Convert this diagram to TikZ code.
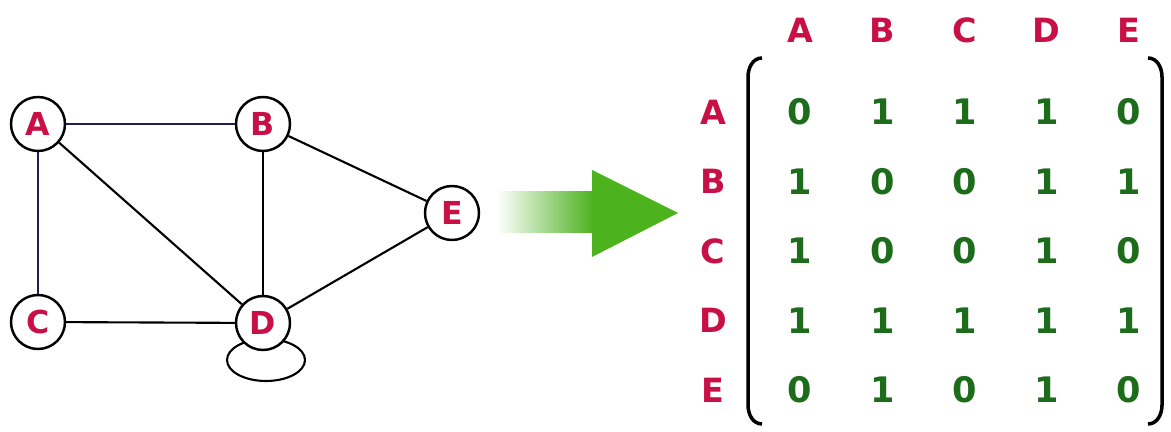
\documentclass[tikz,border=0pt]{standalone}
\usepackage{fontspec}
\setmainfont{DejaVu Sans}

\definecolor{vertexred}{RGB}{200,16,70}
\definecolor{entrygreen}{RGB}{28,108,28}
\definecolor{arrowgreen}{RGB}{76,178,30}
\definecolor{edgenavy}{RGB}{30,30,80}

\tikzset{
  vertex/.style={circle, draw, line width=1.4pt, fill=white, minimum size=1.08cm, inner sep=0pt,
    text=vertexred, font=\fontsize{18}{20}\selectfont\bfseries},
  edge/.style={line width=1.2pt},
  lab/.style={text=vertexred, font=\fontsize{19}{22}\selectfont\bfseries},
  entry/.style={text=entrygreen, font=\fontsize{20}{24}\selectfont\bfseries},
  bracket/.style={line width=2pt}
}

\begin{document}
\begin{tikzpicture}

        \useasboundingbox (0, 0) rectangle (23.42, 8.64);

        % Self loop on D (drawn first, so D covers its top)
        \coordinate (loopD) at (5.32, 1.44);
        \draw[edge] (loopD) ellipse (0.78 and 0.42);

        % Vertices
        \node (A) [vertex] at (0.76, 6.16) {A};
        \node (B) [vertex] at (5.26, 6.16) {B};
        \node (C) [vertex] at (0.76, 2.20) {C};
        \node (D) [vertex] at (5.26, 2.18) {D};
        \node (E) [vertex] at (9.04, 4.38) {E};

        % Edges
        \draw[edge, edgenavy] (A) -- (B);
        \draw[edge, edgenavy] (A) -- (C);
        \draw[edge] (A) -- (D);
        \draw[edge] (B) -- (D);
        \draw[edge] (B) -- (E);
        \draw[edge] (C) -- (D);
        \draw[edge] (D) -- (E);

        % Big arrow
        \shade[left color=white, right color=arrowgreen] (9.94, 3.98) rectangle (11.86, 4.80);
        \fill[arrowgreen] (11.84, 5.24) -- (13.56, 4.38) -- (11.84, 3.50) -- cycle;

        % Column and row labels
        \foreach \name [count=\i] in {A,B,C,D,E} {
            \node (col\name) [lab] at ({16.00 + 1.645*(\i-1)}, 8.04) {\name};
            \node (row\name) [lab] at (14.26, {6.40 - 1.39*(\i-1)}) {\name};
        }

        % Entries
        \foreach \row [count=\i] in {{0,1,1,1,0},{1,0,0,1,1},{1,0,0,1,0},{1,1,1,1,1},{0,1,0,1,0}} {
            \foreach \v [count=\j] in \row {
                \node (m-\i-\j) [entry] at ({16.00 + 1.645*(\j-1)}, {6.40 - 1.39*(\i-1)}) {\v};
            }
        }

        % Brackets
        \draw[bracket] (15.24, 7.48) to[out=180, in=90] (14.96, 7.10) -- (14.96, 0.54) to[out=-90, in=180] (15.24, 0.16);
        \draw[bracket] (22.96, 7.48) to[out=0, in=90] (23.24, 7.10) -- (23.24, 0.54) to[out=-90, in=0] (22.96, 0.16);

\end{tikzpicture}
\end{document}
